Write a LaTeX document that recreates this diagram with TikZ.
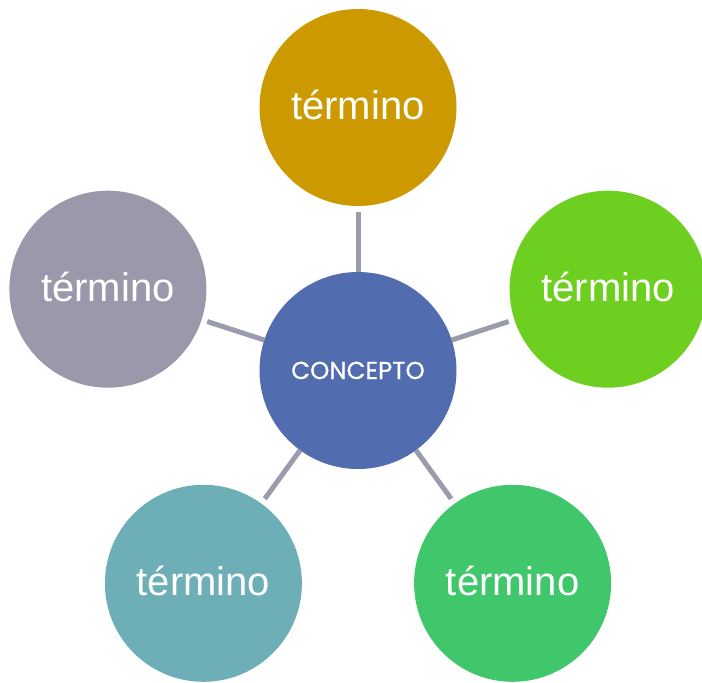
\documentclass[tikz,border=0pt]{standalone}
\usepackage{fontspec}
\usetikzlibrary{calc}
\newfontfamily\termfont{Liberation Sans}
\newfontfamily\concfont[FakeBold=0.6]{Poppins}
\definecolor{cconc}{HTML}{526CB0}
\definecolor{ctop}{HTML}{CC9A00}
\definecolor{cright}{HTML}{6DCF1F}
\definecolor{cbr}{HTML}{40C76C}
\definecolor{cbl}{HTML}{6EAFB7}
\definecolor{cleft}{HTML}{9999AB}
\definecolor{cline}{HTML}{9B9BAE}
\begin{document}
\begin{tikzpicture}[x=1pt,y=-1pt,
  bubble/.style={circle,minimum size=197pt,inner sep=0pt,outer sep=0pt,text=white,
    font=\termfont\fontsize{40}{40}\selectfont,text height=24.5pt,text depth=0pt},
  center bubble/.style={bubble,fill=cconc,font=\concfont\fontsize{24.5}{25}\selectfont,text height=17pt},
  link/.style={draw=cline,line width=5pt,shorten >=6pt}]
\useasboundingbox (0,0) rectangle (702,683);
\coordinate (o) at (358,370.5);
\node[center bubble] (c) at (o) {CONCEPTO};
\node[bubble,fill=ctop]   (t)  at ($(o)+(0,-263)$)  {término};
\node[bubble,fill=cright] (r)  at ($(o)+(250.1,-81.3)$) {término};
\node[bubble,fill=cbr]    (br) at ($(o)+(154.6,212.8)$) {término};
\node[bubble,fill=cbl]    (bl) at ($(o)+(-154.6,212.8)$) {término};
\node[bubble,fill=cleft]  (l)  at ($(o)+(-250.1,-81.3)$) {término};
\foreach \n in {t,r,br,bl,l} \draw[link] (c) -- (\n);
\end{tikzpicture}
\end{document}
